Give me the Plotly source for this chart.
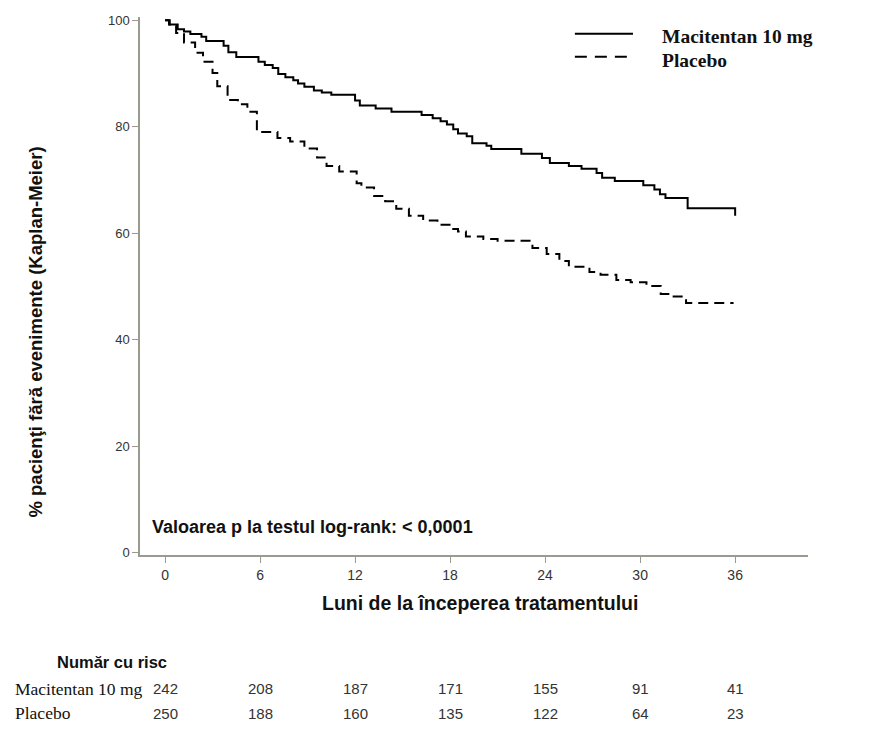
import plotly.graph_objects as go

# Kaplan-Meier step points (months, % event-free)
mac_months = [0, 0.25, 0.8, 1.2, 1.6, 2.3, 2.6, 3.7, 4.0, 4.5, 5.9, 6.3, 6.8, 7.15, 7.6, 8.1, 8.4,
              8.8, 9.4, 9.9, 10.5, 12.0, 12.3, 13.3, 14.3, 16.2, 16.9, 17.4, 17.8, 18.2, 18.5,
              19.05, 19.4, 20.3, 20.6, 22.5, 23.8, 24.3, 25.5, 26.3, 27.25, 27.6, 28.4, 30.2,
              30.9, 31.25, 31.6, 33.0, 36.0]
mac_pct = [100, 99.2, 98.3, 97.9, 97.4, 96.9, 96.1, 95.2, 94.0, 93.1, 92.2, 91.6, 91.0, 89.9, 89.3,
           88.7, 88.1, 87.5, 86.8, 86.4, 86.0, 84.9, 84.0, 83.4, 82.8, 82.2, 81.6, 81.0, 80.4,
           79.5, 78.7, 78.2, 76.9, 76.4, 75.8, 74.9, 74.1, 73.2, 72.6, 72.1, 71.3, 70.4, 69.8,
           69.0, 68.2, 67.3, 66.6, 64.7, 63.3]

pla_months = [0, 0.3, 0.7, 1.2, 1.9, 2.4, 3.0, 3.3, 3.95, 4.6, 5.2, 5.8, 7.1, 7.9, 8.8, 9.6, 10.2,
              11.0, 12.1, 12.4, 13.2, 13.9, 14.6, 15.4, 16.3, 17.2, 18.1, 18.5, 19.0, 20.1, 21.0,
              23.2, 24.1, 24.9, 25.5, 26.8, 27.5, 28.5, 29.4, 30.4, 31.3, 32.0, 32.9, 35.9]
pla_pct = [100, 99.0, 97.6, 95.8, 93.9, 92.2, 90.1, 87.6, 85.0, 84.2, 82.8, 79.0, 77.9, 77.2, 75.9,
           74.2, 72.6, 71.6, 69.4, 68.6, 67.0, 66.0, 64.6, 63.3, 62.4, 61.6, 60.8, 60.3, 59.4,
           58.9, 58.6, 57.2, 56.1, 54.8, 53.7, 52.7, 52.2, 51.2, 50.8, 50.1, 48.6, 48.1, 46.9, 46.9]

# numar cu risc
risk_months = [0, 6, 12, 18, 24, 30, 36]
risk_mac = [242, 208, 187, 171, 155, 91, 41]
risk_pla = [250, 188, 160, 135, 122, 64, 23]

sans = "Liberation Sans, Arial, sans-serif"
serif = "Liberation Serif, Times New Roman, serif"
axis_col = "#9a9a90"

fig = go.Figure()
fig.add_trace(go.Scatter(x=mac_months, y=mac_pct, mode="lines", line_shape="hv",
                         line=dict(color="black", width=2), name="Macitentan 10 mg"))
fig.add_trace(go.Scatter(x=pla_months, y=pla_pct, mode="lines", line_shape="hv",
                         line=dict(color="black", width=2, dash="10px,6px"), name="Placebo"))

# the page has an 8px body margin, so the margins are shifted by that
fig.update_layout(
    width=885, height=731,
    margin=dict(l=132, r=85, t=5, b=184),
    plot_bgcolor="white", paper_bgcolor="white",
    showlegend=False,
    font=dict(family=sans, color="#333333"),
)
fig.update_xaxes(range=[-1.58, 40.6], tickvals=risk_months, ticks="outside", ticklen=6,
                 tickcolor=axis_col, showline=True, linecolor=axis_col, linewidth=1.5,
                 showgrid=False, zeroline=False, tickfont=dict(size=14, family=sans, color="#333"))
fig.update_yaxes(range=[-0.43, 100.6], tickvals=[0, 20, 40, 60, 80, 100], ticks="outside",
                 ticklen=6, tickcolor=axis_col, showline=True, linecolor=axis_col, linewidth=1.5,
                 showgrid=False, zeroline=False, tickfont=dict(size=13, family=sans, color="#333"))

ann = []
ann.append(dict(text="<b>% pacienţi fără evenimente (Kaplan-Meier)</b>", textangle=-90,
                xref="paper", yref="paper", x=-0.156, y=0.415, xanchor="center", yanchor="middle",
                showarrow=False, font=dict(size=18.5, family=sans, color="#111")))
ann.append(dict(text="<b>Luni de la începerea tratamentului</b>", xref="paper", yref="paper",
                x=0.509, y=-0.09, xanchor="center", yanchor="middle", showarrow=False,
                font=dict(size=19.5, family=sans, color="#111")))
ann.append(dict(text="<b>Valoarea p la testul log-rank: < 0,0001</b>", xref="paper", yref="paper",
                x=0.015, y=0.052, xanchor="left", yanchor="middle", showarrow=False,
                font=dict(size=18, family=sans, color="#111")))
# legenda
ann.append(dict(text="<b>Macitentan 10 mg</b>", xref="paper", yref="paper", x=0.778, y=0.963,
                xanchor="left", yanchor="middle", showarrow=False,
                font=dict(size=19.5, family=serif, color="#111")))
ann.append(dict(text="<b>Placebo</b>", xref="paper", yref="paper", x=0.778, y=0.919,
                xanchor="left", yanchor="middle", showarrow=False,
                font=dict(size=19.5, family=serif, color="#111")))
fig.add_shape(type="line", xref="paper", yref="paper", x0=0.651, x1=0.738, y0=0.969, y1=0.969,
              line=dict(color="black", width=2))
fig.add_shape(type="line", xref="paper", yref="paper", x0=0.651, x1=0.738, y0=0.926, y1=0.926,
              line=dict(color="black", width=2, dash="12px,8px"))

# tabel numar cu risc
ann.append(dict(text="<b>Număr cu risc</b>", xref="paper", yref="paper", x=-0.127, y=-0.199,
                xanchor="left", yanchor="middle", showarrow=False,
                font=dict(size=16.5, family=sans, color="#111")))
ann.append(dict(text="Macitentan 10 mg", xref="paper", yref="paper", x=-0.19, y=-0.249,
                xanchor="left", yanchor="middle", showarrow=False,
                font=dict(size=17.5, family=serif, color="#111")))
ann.append(dict(text="Placebo", xref="paper", yref="paper", x=-0.19, y=-0.293,
                xanchor="left", yanchor="middle", showarrow=False,
                font=dict(size=17.5, family=serif, color="#111")))
for m, a, b in zip(risk_months, risk_mac, risk_pla):
    ann.append(dict(text=str(a), xref="x", yref="paper", x=m, y=-0.249, xanchor="center",
                    yanchor="middle", showarrow=False, font=dict(size=15, family=sans, color="#333")))
    ann.append(dict(text=str(b), xref="x", yref="paper", x=m, y=-0.295, xanchor="center",
                    yanchor="middle", showarrow=False, font=dict(size=15, family=sans, color="#333")))
fig.update_layout(annotations=ann)

fig.write_html("out.html")
